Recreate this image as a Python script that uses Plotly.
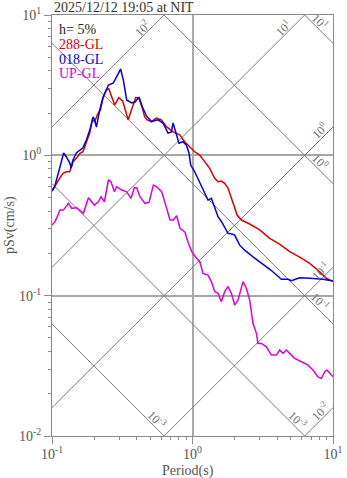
import numpy as np
import plotly.graph_objects as go

# ---------------- data ----------------
T_288 = [0.1, 0.1075, 0.1134, 0.1198, 0.1266, 0.1337, 0.1411, 0.1492, 0.1574, 0.1662,
         0.1758, 0.1855, 0.1939, 0.2013, 0.2125, 0.2211, 0.2307, 0.2439, 0.2533, 0.266,
         0.2795, 0.2984, 0.3185, 0.3485, 0.3693, 0.394, 0.4141, 0.4349, 0.4569, 0.476,
         0.51, 0.5535, 0.6006, 0.6519, 0.7265, 0.8108, 0.88, 0.955, 1.037, 1.125,
         1.221, 1.326, 1.439, 1.519, 1.606, 1.695, 1.789, 1.942, 2.08, 2.228,
         2.553, 3.008, 3.544, 4.174, 4.918, 5.794, 6.827, 8.04, 8.974, 10.0]
SV_288 = [0.557, 0.632, 0.686, 0.744, 0.764, 0.764, 0.900, 0.952, 1.03, 1.06,
          1.22, 1.44, 1.79, 1.74, 1.99, 2.10, 2.55, 2.92, 2.99, 2.60,
          2.28, 2.58, 2.44, 1.79, 2.17, 2.58, 2.56, 2.25, 1.88, 1.79,
          1.74, 1.84, 1.79, 1.60, 1.47, 1.40, 1.25, 1.15, 1.06, 1.005,
          0.900, 0.808, 0.686, 0.648, 0.656, 0.632, 0.585, 0.450, 0.375, 0.346,
          0.324, 0.294, 0.256, 0.233, 0.206, 0.188, 0.170, 0.148, 0.133, 0.126]

T_018 = [0.1, 0.1045, 0.110, 0.1166, 0.121, 0.1266, 0.134, 0.137, 0.141, 0.149,
         0.157, 0.166, 0.176, 0.186, 0.196, 0.201, 0.207, 0.2185, 0.231, 0.238,
         0.252, 0.2735, 0.289, 0.308, 0.322, 0.340, 0.369, 0.390, 0.416, 0.440,
         0.470, 0.510, 0.568, 0.617, 0.669, 0.708, 0.727, 0.768, 0.801, 0.856,
         0.905, 0.944, 0.971, 1.037, 1.125, 1.221, 1.289, 1.363, 1.439, 1.519,
         1.614, 1.789, 1.901, 1.997, 2.167, 2.352, 2.696, 3.093, 3.644, 4.293,
         4.783, 5.057, 5.794, 6.827, 8.489, 10.0]
SV_018 = [0.557, 0.597, 0.724, 0.881, 1.04, 0.973, 0.881, 0.812, 0.926, 1.04,
          1.09, 1.13, 1.29, 1.52, 1.88, 1.79, 1.59, 2.10, 2.60, 2.78,
          3.17, 3.28, 3.62, 4.12, 3.44, 2.48, 2.36, 2.40, 2.60, 2.21,
          1.91, 1.74, 1.79, 1.70, 1.44, 1.47, 1.70, 1.44, 1.22, 1.25,
          1.18, 1.04, 0.853, 0.764, 0.645, 0.539, 0.480, 0.494, 0.430, 0.365,
          0.335, 0.278, 0.275, 0.270, 0.229, 0.211, 0.189, 0.170, 0.151, 0.131,
          0.131, 0.128, 0.134, 0.133, 0.131, 0.127]

T_UP = [0.1, 0.1051, 0.114, 0.1206, 0.1308, 0.1381, 0.1499, 0.1674, 0.1816, 0.2003,
        0.2139, 0.2233, 0.236, 0.252, 0.263, 0.278, 0.2887, 0.3133, 0.3401, 0.3651,
        0.3859, 0.4007, 0.4229, 0.4591, 0.4903, 0.5268, 0.5561, 0.6037, 0.6553, 0.6918,
        0.7311, 0.7718, 0.8147, 0.8843, 0.935, 0.987, 1.071, 1.125, 1.188, 1.289,
        1.363, 1.439, 1.519, 1.606, 1.695, 1.789, 1.891, 1.997, 2.108, 2.288,
        2.418, 2.553, 2.696, 2.85, 2.925, 3.093, 3.357, 3.644, 3.956, 4.174,
        4.406, 4.659, 4.918, 5.339, 5.959, 6.639, 7.206, 7.82, 8.269, 8.729,
        9.064, 9.474, 10.0]
SV_UP = [0.319, 0.336, 0.407, 0.407, 0.455, 0.419, 0.423, 0.386, 0.499, 0.442,
         0.467, 0.507, 0.467, 0.667, 0.648, 0.550, 0.597, 0.566, 0.550, 0.494,
         0.588, 0.588, 0.507, 0.455, 0.462, 0.614, 0.597, 0.550, 0.419, 0.346,
         0.346, 0.371, 0.302, 0.283, 0.236, 0.206, 0.184, 0.176, 0.144, 0.140,
         0.126, 0.107, 0.104, 0.0905, 0.107, 0.116, 0.104, 0.0857, 0.093, 0.126,
         0.113, 0.093, 0.0635, 0.0539, 0.0457, 0.0457, 0.0432, 0.0377, 0.0377, 0.041,
         0.0388, 0.041, 0.0388, 0.0357, 0.0338, 0.032, 0.0295, 0.0264, 0.0257, 0.0287,
         0.0295, 0.0282, 0.0264]

SERIES_NAMES = ["288-GL", "018-GL", "UP-GL"]
SERIES_COLORS = ["#dd0000", "#0000dd", "#dd00dd"]

# tripartite guide lines: displacement (cm) and acceleration (cm/s^2)
DISP_LEVELS = [1e-3, 1e-2, 1e-1, 1e0, 1e1]
DISP_LABELS = ["10<sup>-3</sup>", "10<sup>-3</sup>", "10<sup>-1</sup>", "10<sup>0</sup>", "10<sup>1</sup>"]
ACC_LEVELS = [1e-2, 1e-1, 1e0, 1e1, 1e2]
ACC_LABELS = ["10<sup>-2</sup>", "10<sup>-1</sup>", "10<sup>0</sup>", "10<sup>1</sup>", "10<sup>2</sup>"]

X_TICKVALS = [0.1, 1, 10]
X_TICKTEXT = ["10<sup>-1</sup>", "10<sup>0</sup>", "10<sup>1</sup>"]
Y_TICKVALS = [0.01, 0.1, 1, 10]
Y_TICKTEXT = ["10<sup>-2</sup>", "10<sup>-1</sup>", "10<sup>0</sup>", "10<sup>1</sup>"]

TITLE = "2025/12/12 19:05 at NIT"
DAMPING = "h= 5%"

# ---------------- layout constants ----------------
W, H = 347, 478
ML, MR, MT, MB = 52, 14, 15, 42
PW, PH = W - ML - MR, H - MT - MB
XR = (-1.0, 1.0)
YR = (-2.0, 1.0)
FONT = "Liberation Serif, Times New Roman, serif"
GUIDE = "#7a7a7a"

def py(p):
    return 1 - (p - MT) / PH

fig = go.Figure()

# guide lines
Tend = np.array([10 ** XR[0], 10 ** XR[1]])
for D in DISP_LEVELS:
    fig.add_trace(go.Scatter(x=Tend, y=2 * np.pi * D / Tend, mode="lines",
                             line=dict(color=GUIDE, width=1), hoverinfo="skip", showlegend=False))
for A in ACC_LEVELS:
    fig.add_trace(go.Scatter(x=Tend, y=A * Tend / (2 * np.pi), mode="lines",
                             line=dict(color=GUIDE, width=1), hoverinfo="skip", showlegend=False))

# data series
for T, S, name, col in zip([T_288, T_018, T_UP], [SV_288, SV_018, SV_UP], SERIES_NAMES, SERIES_COLORS):
    fig.add_trace(go.Scatter(x=T, y=S, mode="lines", name=name,
                             line=dict(color=col, width=1.5), showlegend=False))

annotations = []
SH = 4.5
LFONT = dict(family=FONT, size=12, color="#707070")
for D, lab in zip(DISP_LEVELS, DISP_LABELS):
    c = np.log10(2 * np.pi * D)           # logS = c - logT
    exit_right = c - YR[0] >= XR[1]
    back = 0.125 if exit_right else 0.085
    lt = min(XR[1], c - YR[0]) - back
    ls = c - lt
    annotations.append(dict(x=lt, y=ls, xref="x", yref="y", text=lab, showarrow=False,
                            textangle=45, xshift=SH, yshift=SH, font=LFONT))
for A, lab in zip(ACC_LEVELS, ACC_LABELS):
    c = np.log10(A / (2 * np.pi))         # logS = c + logT
    exit_right = YR[1] - c >= XR[1]
    back = 0.06 if exit_right else 0.125
    lt = min(XR[1], YR[1] - c) - back
    ls = c + lt
    annotations.append(dict(x=lt, y=ls, xref="x", yref="y", text=lab, showarrow=False,
                            textangle=-45, xshift=-SH, yshift=SH, font=LFONT))

# title
annotations.append(dict(x=0, y=1, xref="paper", yref="paper", xanchor="left", yanchor="bottom",
                        text=TITLE, showarrow=False, yshift=-2,
                        font=dict(family=FONT, size=14, color="#333333")))
# legend texts
leg_items = [(DAMPING, "#222222")] + list(zip(SERIES_NAMES, SERIES_COLORS))
for i, (txt, col) in enumerate(leg_items):
    annotations.append(dict(x=5 / PW, y=py(29.5 + 14.8 * i), xref="paper", yref="paper",
                            xanchor="left", yanchor="middle", text=txt, showarrow=False,
                            font=dict(family=FONT, size=14, color=col)))
# axis titles
annotations.append(dict(x=-42 / PW, y=py(225), xref="paper", yref="paper", text="pSv(cm/s)",
                        textangle=-90, showarrow=False, xanchor="center", yanchor="middle",
                        font=dict(family=FONT, size=14, color="#555555")))
annotations.append(dict(x=(188 - ML) / PW, y=py(471), xref="paper", yref="paper", text="Period(s)",
                        showarrow=False, xanchor="center", yanchor="middle",
                        font=dict(family=FONT, size=14, color="#555555")))

minor_x = [m * 10 ** e for e in (-1, 0) for m in range(2, 10)]
minor_y = [m * 10 ** e for e in (-2, -1, 0) for m in range(2, 10)]

axis_common = dict(type="log", showline=True, linecolor="#8a8a8a", linewidth=1, mirror=True,
                   showgrid=True, gridcolor="#a8a8a8", gridwidth=1.5, zeroline=False,
                   automargin=False,
                   ticks="outside", ticklen=7, tickcolor="#8a8a8a", tickwidth=1,
                   tickfont=dict(family=FONT, size=14, color="#555555"))

fig.update_layout(
    width=W, height=H,
    margin=dict(l=ML, r=MR, t=MT, b=MB, pad=0, autoexpand=False),
    paper_bgcolor="white", plot_bgcolor="white",
    showlegend=False,
    annotations=annotations,
    xaxis=dict(range=list(XR), tickmode="array", tickvals=X_TICKVALS, ticktext=X_TICKTEXT,
               ticklabelstandoff=-2,
               minor=dict(tickmode="array", tickvals=minor_x, ticks="outside", ticklen=3,
                          tickcolor="#8a8a8a", showgrid=False),
               **axis_common),
    yaxis=dict(range=list(YR), tickmode="array", tickvals=Y_TICKVALS, ticktext=Y_TICKTEXT,
               minor=dict(tickmode="array", tickvals=minor_y, ticks="outside", ticklen=3,
                          tickcolor="#8a8a8a", showgrid=False),
               **axis_common),
)

fig.write_html("out.html")
